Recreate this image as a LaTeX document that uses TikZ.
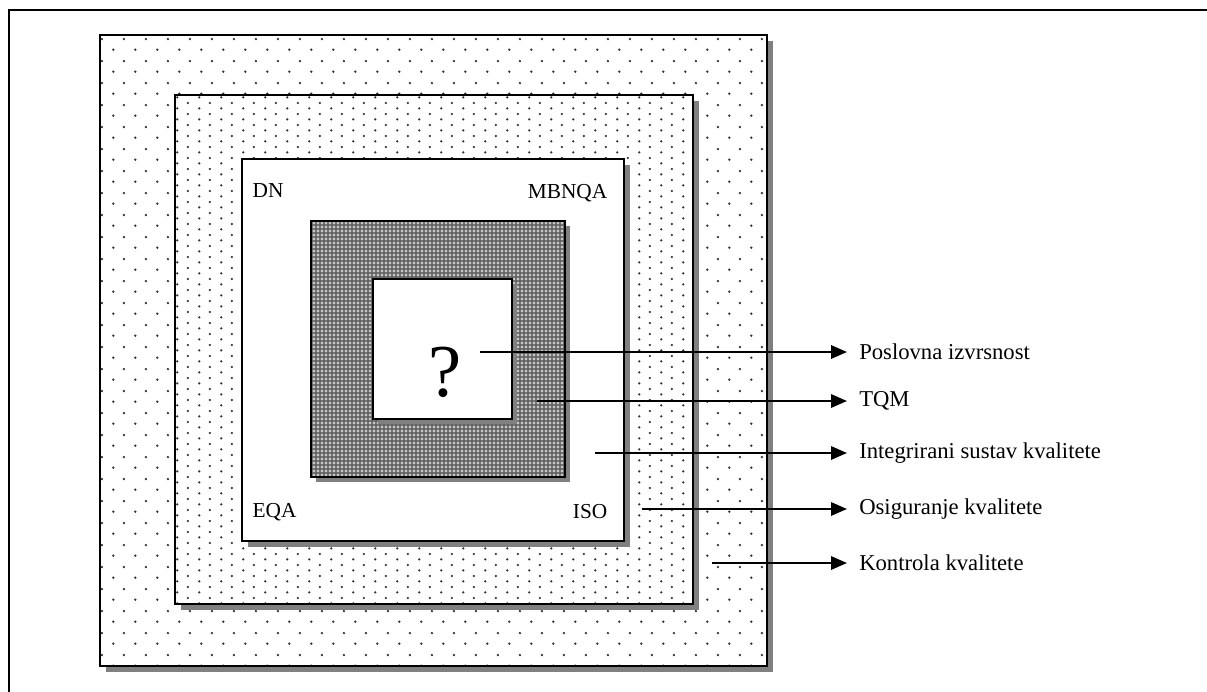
\documentclass[tikz,border=0pt]{standalone}
\usepackage{fontspec}
\setmainfont{Liberation Serif}
\usetikzlibrary{patterns,arrows.meta}

% sparse staggered dots
\pgfdeclarepatternformonly{widedots}{\pgfqpoint{0pt}{0pt}}{\pgfqpoint{16.2pt}{16.2pt}}{\pgfqpoint{16.2pt}{16.2pt}}{
  \pgfpathcircle{\pgfqpoint{4.05pt}{4.05pt}}{1pt}
  \pgfpathcircle{\pgfqpoint{12.15pt}{12.15pt}}{1pt}
  \pgfusepath{fill}
}
% dense staggered dots
\pgfdeclarepatternformonly{closedots}{\pgfqpoint{0pt}{0pt}}{\pgfqpoint{16.2pt}{8.1pt}}{\pgfqpoint{16.2pt}{8.1pt}}{
  \pgfpathcircle{\pgfqpoint{4.05pt}{2.025pt}}{0.95pt}
  \pgfpathcircle{\pgfqpoint{12.15pt}{6.075pt}}{0.95pt}
  \pgfusepath{fill}
}
% small crosses
\pgfdeclarepatternformonly{crossgrid}{\pgfqpoint{0pt}{0pt}}{\pgfqpoint{3.3pt}{3.3pt}}{\pgfqpoint{3.3pt}{3.3pt}}{
  \pgfpathrectangle{\pgfqpoint{1.3pt}{0.5pt}}{\pgfqpoint{0.7pt}{2.3pt}}
  \pgfpathrectangle{\pgfqpoint{0.5pt}{1.3pt}}{\pgfqpoint{2.3pt}{0.7pt}}
  \pgfusepath{fill}
}

\begin{document}
\begin{tikzpicture}[x=0.75pt,y=-0.75pt,
    box/.style={draw=black,line width=1.5pt},
    shadowbox/.style={fill=black!50},
    lab/.style={anchor=west,inner xsep=9pt,font=\fontsize{17}{20}\selectfont},
    corner/.style={font=\fontsize{16}{19}\selectfont},
    pointer/.style={-{Triangle[length=12pt,width=10pt]},line width=1.6pt}]

\useasboundingbox (0,0) rectangle (1207,692);

% Page frame
\draw[line width=1.6pt] (9,692) -- (9,10) -- (1207,10);

% Kontrola kvalitete
\fill[shadowbox] (106,41) rectangle (773,672);
\draw[box,preaction={fill=white},pattern=widedots,pattern color=black!80] (100,35) rectangle (767,666);

% Osiguranje kvalitete
\fill[shadowbox] (181,101) rectangle (699,610);
\draw[box,preaction={fill=white},pattern=closedots,pattern color=black!80] (175,95) rectangle (693,604);

% Integrirani sustav
\fill[shadowbox] (248,165) rectangle (630,547);
\draw[box,fill=white] (242,159) rectangle (624,541);

\node[corner,anchor=west] (dn) at (248,191) {DN};
\node[corner,anchor=east] (mbnqa) at (612,193) {MBNQA};
\node[corner,anchor=west] (eqa) at (248,512) {EQA};
\node[corner,anchor=east] (iso) at (612,512) {ISO};

% TQM
\fill[shadowbox] (316,226) rectangle (570,482);
\draw[box,preaction={fill=black!62},pattern=crossgrid,pattern color=white] (311,221) rectangle (565,477);

% Poslovna izvrsnost
\fill[shadowbox] (378,284) rectangle (517,424);
\draw[box,fill=white] (373,279) rectangle (512,419);
\node[font=\fontsize{56}{64}\selectfont] (q) at (445,372) {?};

% Pointers
\coordinate (p1) at (480,352);
\coordinate (p2) at (537,401);
\coordinate (p3) at (595,453);
\coordinate (p4) at (642,509);
\coordinate (p5) at (712,563);

\node[lab] (l1) at (847,352) {Poslovna izvrsnost};
\node[lab] (l2) at (847,401) {TQM};
\node[lab] (l3) at (847,453) {Integrirani sustav kvalitete};
\node[lab] (l4) at (847,509) {Osiguranje kvalitete};
\node[lab] (l5) at (847,563) {Kontrola kvalitete};

\draw[pointer] (p1) -- (l1.west);
\draw[pointer] (p2) -- (l2.west);
\draw[pointer] (p3) -- (l3.west);
\draw[pointer] (p4) -- (l4.west);
\draw[pointer] (p5) -- (l5.west);
\end{tikzpicture}
\end{document}
